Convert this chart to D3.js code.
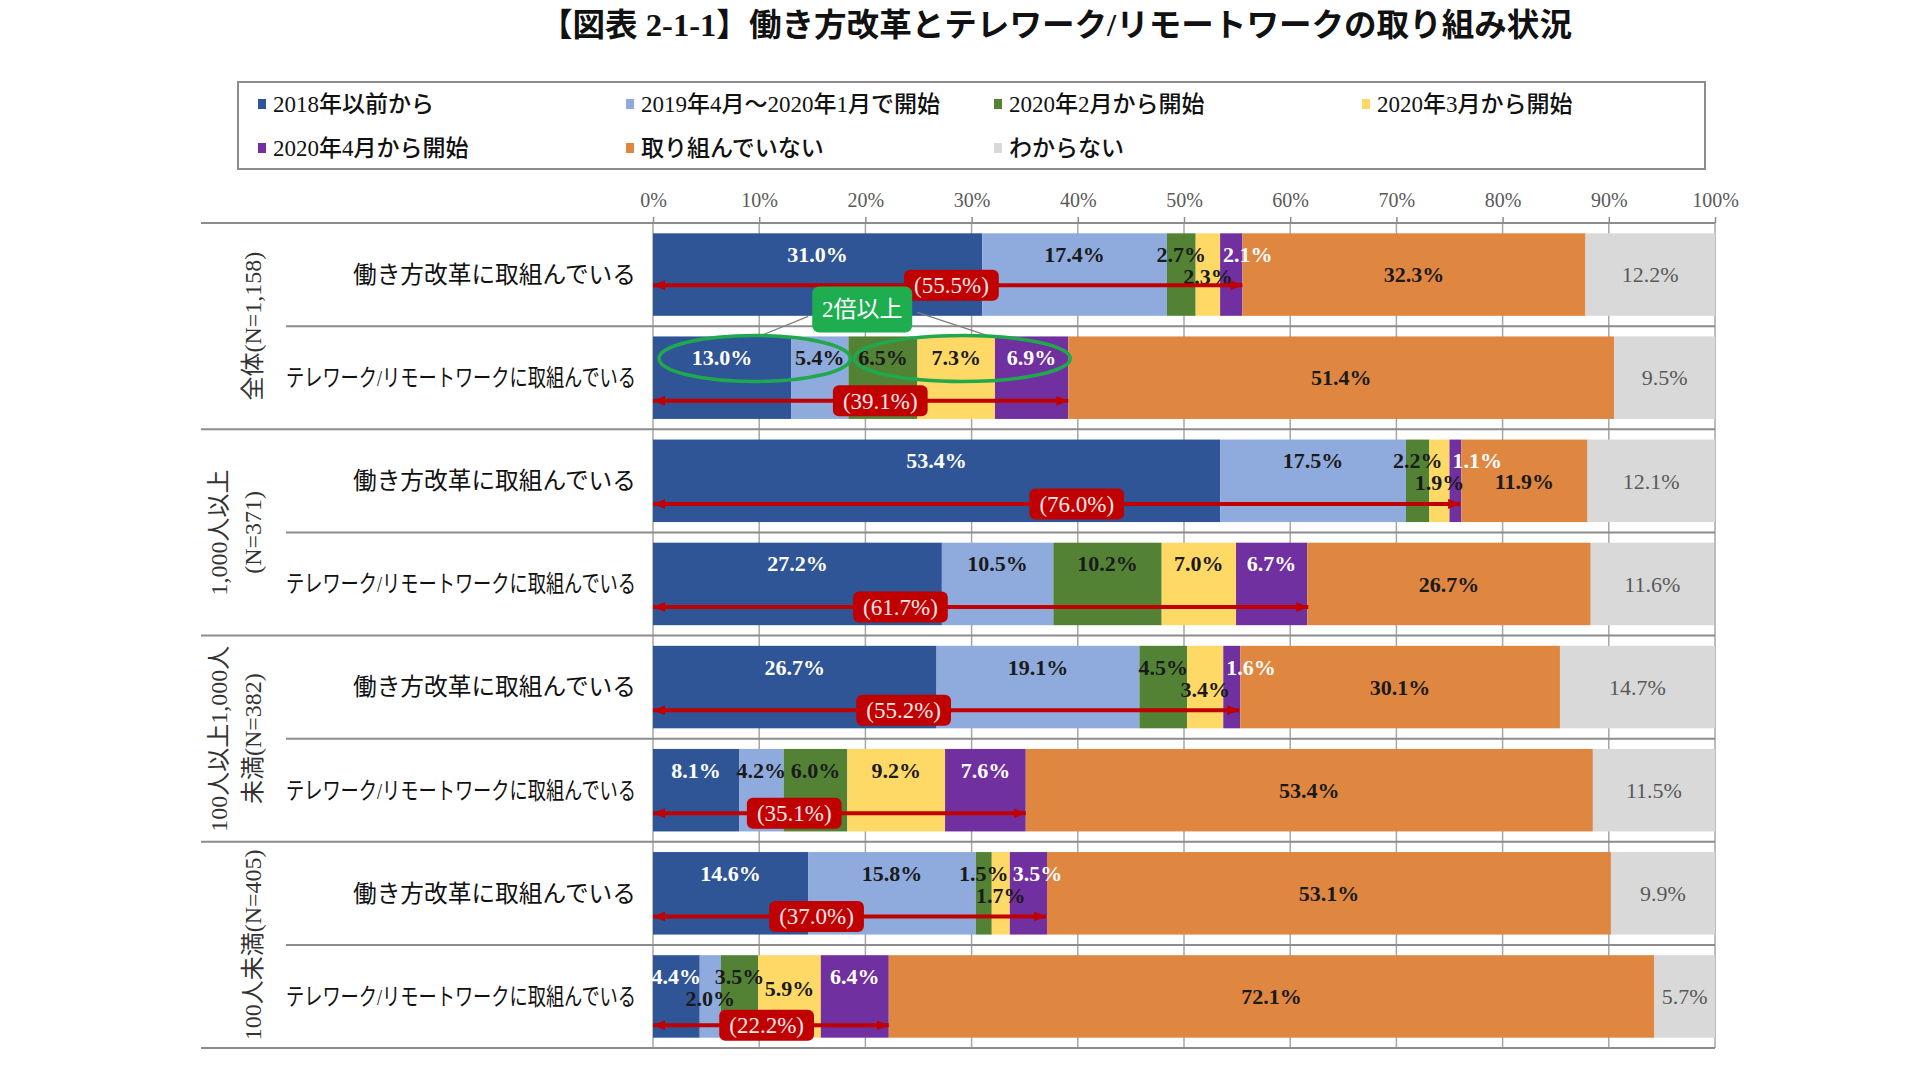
<!DOCTYPE html>
<html lang="ja">
<head>
<meta charset="utf-8">
<title>働き方改革とテレワーク/リモートワークの取り組み状況</title>
<script src="https://cdn.jsdelivr.net/npm/d3@7"></script>
<style>
    body { margin: 0; background: #fff; }
    #chart { width: 1920px; height: 1071px; }
    text { font-family: 'Liberation Serif', 'Noto Sans CJK JP', serif; }
</style>
</head>
<body>
<div id="chart"></div>
<script>

// chart title
const title = "【図表 2-1-1】働き方改革とテレワーク/リモートワークの取り組み状況";

// legend / series names
const categories = ["2018年以前から", "2019年4月～2020年1月で開始", "2020年2月から開始", "2020年3月から開始",
    "2020年4月から開始", "取り組んでいない", "わからない"];
const seriesColors = ["#2f5597", "#8faadc", "#548235", "#ffd966", "#7030a0", "#df8640", "#d9d9d9"];

// row groups (company size) and the two questions inside each group
const groupLabels = [["全体(N=1,158)"], ["1,000人以上", "(N=371)"], ["100人以上1,000人", "未満(N=382)"], ["100人未満(N=405)"]];
const rowLabels = ["働き方改革に取組んでいる", "テレワーク/リモートワークに取組んでいる"];

// values (%), one entry per bar, top to bottom
const before2018 = [31.0, 13.0, 53.4, 27.2, 26.7, 8.1, 14.6, 4.4];
const apr2019toJan2020 = [17.4, 5.4, 17.5, 10.5, 19.1, 4.2, 15.8, 2.0];
const feb2020 = [2.7, 6.5, 2.2, 10.2, 4.5, 6.0, 1.5, 3.5];
const mar2020 = [2.3, 7.3, 1.9, 7.0, 3.4, 9.2, 1.7, 5.9];
const apr2020 = [2.1, 6.9, 1.1, 6.7, 1.6, 7.6, 3.5, 6.4];
const notDoing = [32.3, 51.4, 11.9, 26.7, 30.1, 53.4, 53.1, 72.1];
const unknown = [12.2, 9.5, 12.1, 11.6, 14.7, 11.5, 9.9, 5.7];

// red arrows: share that has started (first five series) and where its tag sits on the axis
const startedTotal = [55.5, 39.1, 76.0, 61.7, 55.2, 35.1, 37.0, 22.2];
const startedTagAt = [28.1, 21.4, 39.9, 23.3, 23.6, 13.3, 15.4, 10.7];

// green callout
const calloutText = "2倍以上";
const calloutAt = 19.7;
const calloutRow = 1;
const calloutSeries = [[0, 1], [2, 4]];

// x axis ticks
const ticks = [0, 10, 20, 30, 40, 50, 60, 70, 80, 90, 100];


class StackedBar {

    constructor(parentElement) {
        this.parentElement = parentElement;
        this.series = [before2018, apr2019toJan2020, feb2020, mar2020, apr2020, notDoing, unknown];
        this.displayData = [];

        this.initVis();
    }

    initVis() {
        let vis = this;

        vis.width = 1920;
        vis.height = 1071;

        vis.svg = d3.select("#" + vis.parentElement).append("svg")
            .attr("width", vis.width)
            .attr("height", vis.height);

        vis.x = d3.scaleLinear()
            .domain([0, 100])
            .range([653, 1715]);

        vis.y = d3.scaleBand()
            .domain(d3.range(before2018.length))
            .range([223, 1048])
            .paddingInner(0.2)
            .paddingOuter(0.1);

        vis.step = vis.y.step();
        vis.bw = vis.y.bandwidth();

        // title
        vis.svg.append("text")
            .attr("x", 1056)
            .attr("y", 36)
            .attr("text-anchor", "middle")
            .attr("font-size", 32)
            .attr("font-weight", 600)
            .attr("textLength", 1032)
            .attr("lengthAdjust", "spacingAndGlyphs")
            .attr("fill", "#111")
            .text(title);

        // legend
        vis.svg.append("rect")
            .attr("x", 238).attr("y", 82)
            .attr("width", 1467).attr("height", 87)
            .attr("fill", "none")
            .attr("stroke", "#8c8c8c")
            .attr("stroke-width", 2);

        let legend = vis.svg.selectAll(".legend-item")
            .data(categories)
            .enter().append("g")
            .attr("class", "legend-item")
            .attr("transform", (d, i) => `translate(${258 + (i % 4) * 368}, ${104 + Math.floor(i / 4) * 44})`);

        legend.append("rect")
            .attr("x", 0).attr("y", -5)
            .attr("width", 8).attr("height", 10)
            .attr("fill", (d, i) => seriesColors[i]);

        legend.append("text")
            .attr("x", 15)
            .attr("dy", "0.35em")
            .attr("font-size", 23)
            .attr("font-weight", 500)
            .attr("fill", "#111")
            .text(d => d);

        // gridlines behind the bars
        vis.svg.selectAll(".grid")
            .data(ticks)
            .enter().append("line")
            .attr("class", "grid")
            .attr("x1", d => vis.x(d)).attr("x2", d => vis.x(d))
            .attr("y1", 223).attr("y2", 1048)
            .attr("stroke", "#a6a6a6")
            .attr("stroke-width", 1.5);

        // top axis
        vis.xAxis = d3.axisTop(vis.x)
            .tickValues(ticks)
            .tickFormat(d => d + "%")
            .tickSize(6)
            .tickPadding(10);

        vis.axisG = vis.svg.append("g")
            .attr("transform", "translate(0,223)")
            .call(vis.xAxis);
        vis.axisG.select(".domain").remove();
        vis.axisG.selectAll(".tick line").attr("stroke", "#8c8c8c").attr("stroke-width", 1.5);
        vis.axisG.selectAll(".tick text")
            .attr("font-family", "'Liberation Serif', serif")
            .attr("font-size", 20)
            .attr("fill", "#595959");

        // row separators: group borders run further left than the inner ones
        let seps = d3.range(before2018.length + 1);
        vis.svg.selectAll(".sep")
            .data(seps)
            .enter().append("line")
            .attr("class", "sep")
            .attr("x1", d => d % 2 === 0 ? 201 : 286)
            .attr("x2", vis.x(100))
            .attr("y1", d => 223 + d * vis.step)
            .attr("y2", d => 223 + d * vis.step)
            .attr("stroke", "#8c8c8c")
            .attr("stroke-width", 2);

        // row labels
        before2018.forEach((v, i) => {
            let label = rowLabels[i % 2];
            vis.svg.append("text")
                .attr("x", 636)
                .attr("y", vis.y(i) + vis.bw / 2)
                .attr("dy", "0.35em")
                .attr("text-anchor", "end")
                .attr("font-size", 24)
                .attr("textLength", i % 2 === 0 ? 283 : 350)
                .attr("lengthAdjust", "spacingAndGlyphs")
                .attr("fill", "#111")
                .text(label);
        });

        // group labels, rotated
        groupLabels.forEach((lines, g) => {
            let cy = 223 + (g * 2 + 1) * vis.step;
            lines.forEach((line, j) => {
                let cx = 253 - (lines.length - 1 - j) * 34;
                vis.svg.append("text")
                    .attr("transform", `translate(${cx},${cy}) rotate(-90)`)
                    .attr("text-anchor", "middle")
                    .attr("dy", "0.35em")
                    .attr("font-size", 24)
                    .attr("fill", "#333")
                    .text(line);
            });
        });

        // arrow markers
        let defs = vis.svg.append("defs");
        defs.append("marker")
            .attr("id", "arrowEnd")
            .attr("markerUnits", "userSpaceOnUse")
            .attr("viewBox", "0 0 12 10")
            .attr("refX", 12).attr("refY", 5)
            .attr("markerWidth", 12).attr("markerHeight", 10)
            .attr("orient", "auto")
            .append("path").attr("d", "M0,0L12,5L0,10Z").attr("fill", "#c00000");
        defs.append("marker")
            .attr("id", "arrowStart")
            .attr("markerUnits", "userSpaceOnUse")
            .attr("viewBox", "0 0 12 10")
            .attr("refX", 0).attr("refY", 5)
            .attr("markerWidth", 12).attr("markerHeight", 10)
            .attr("orient", "auto")
            .append("path").attr("d", "M12,0L0,5L12,10Z").attr("fill", "#c00000");

        vis.wrangleData();
    }

    wrangleData() {
        let vis = this;

        vis.displayData = before2018.map((v, i) => {
            let acc = 0;
            let segments = vis.series.map((s, k) => {
                let seg = {series: k, value: s[i], start: acc, end: Math.min(100, acc + s[i])};
                acc += s[i];
                return seg;
            });
            return {row: i, segments: segments, started: startedTotal[i], tagAt: startedTagAt[i]};
        });

        vis.updateVis();
    }

    updateVis() {
        let vis = this;

        // arrow height inside each bar (fraction of bar height)
        let arrowPos = [0.63, 0.78, 0.78, 0.78, 0.78, 0.78, 0.78, 0.85];

        let rows = vis.svg.selectAll(".bar-row")
            .data(vis.displayData)
            .enter().append("g")
            .attr("class", "bar-row");

        rows.selectAll("rect")
            .data(d => d.segments.map(s => Object.assign({row: d.row}, s)))
            .enter().append("rect")
            .attr("x", d => vis.x(d.start))
            .attr("y", d => vis.y(d.row))
            .attr("width", d => vis.x(d.end) - vis.x(d.start))
            .attr("height", vis.bw)
            .attr("fill", d => seriesColors[d.series]);

        // segment labels; small ones in the first five series step down when they would collide
        vis.displayData.forEach(row => {
            let top = vis.y(row.row);
            let lastUpperRight = -Infinity;
            row.segments.forEach((s, i) => {
                let x0 = vis.x(s.start), x1 = vis.x(s.end);
                let t = vis.svg.append("text")
                    .attr("font-size", 22)
                    .attr("font-weight", i === 6 ? "normal" : "bold")
                    .attr("dy", "0.35em")
                    .attr("fill", i === 0 || i === 4 ? "#fff" : (i === 6 ? "#595959" : "#1a1a1a"))
                    .text(s.value.toFixed(1) + "%");
                let tw = t.node().getComputedTextLength();

                if (i >= 5) {
                    t.attr("x", (x0 + x1) / 2).attr("y", top + vis.bw / 2).attr("text-anchor", "middle");
                    return;
                }
                let narrow = tw + 4 > x1 - x0;
                let anchor = "middle", tx = (x0 + x1) / 2;
                if (narrow && i === 4) { anchor = "start"; tx = x0 + 3; }
                let left = anchor === "start" ? tx : tx - tw / 2;
                let ty = top + 21;
                if (i < 4 && left < lastUpperRight + 2) {
                    ty = narrow ? top + 43 : top + 33;
                } else {
                    lastUpperRight = left + tw;
                }
                t.attr("x", tx).attr("y", ty).attr("text-anchor", anchor);
            });
        });

        // red arrows with tags
        vis.displayData.forEach(row => {
            let ay = vis.y(row.row) + vis.bw * arrowPos[row.row];
            vis.svg.append("line")
                .attr("x1", vis.x(0)).attr("x2", vis.x(row.started))
                .attr("y1", ay).attr("y2", ay)
                .attr("stroke", "#c00000")
                .attr("stroke-width", 4)
                .attr("marker-start", "url(#arrowStart)")
                .attr("marker-end", "url(#arrowEnd)");

            let g = vis.svg.append("g").attr("transform", `translate(${vis.x(row.tagAt)},${ay})`);
            let r = g.append("rect").attr("fill", "#c00000").attr("rx", 6);
            let t = g.append("text")
                .attr("text-anchor", "middle")
                .attr("dy", "0.35em")
                .attr("font-size", 23)
                .attr("fill", "#ffe6e6")
                .text(`(${row.started.toFixed(1)}%)`);
            let tw = t.node().getComputedTextLength();
            r.attr("x", -tw / 2 - 10).attr("y", -15.5).attr("width", tw + 20).attr("height", 31);
        });

        // green callout: ellipses around the circled segments of one row
        let crow = vis.displayData[calloutRow];
        let ecy = vis.y(calloutRow) + 22;
        let ellipses = calloutSeries.map(([a, b]) => {
            let ex0 = vis.x(crow.segments[a].start), ex1 = vis.x(crow.segments[b].end);
            return {cx: (ex0 + ex1) / 2 + 4, rx: (ex1 - ex0) / 2 - 2, ry: 23};
        });
        let bx = vis.x(calloutAt), by = vis.y(calloutRow) - 27;

        vis.svg.append("line")
            .attr("x1", bx - 54).attr("y1", by + 7)
            .attr("x2", ellipses[0].cx + 4).attr("y2", ecy - ellipses[0].ry + 1)
            .attr("stroke", "#7f7f7f").attr("stroke-width", 1.3);
        let off = 27;
        vis.svg.append("line")
            .attr("x1", bx + 55).attr("y1", by + 3)
            .attr("x2", ellipses[1].cx + off)
            .attr("y2", ecy - ellipses[1].ry * Math.sqrt(1 - Math.pow(off / ellipses[1].rx, 2)))
            .attr("stroke", "#7f7f7f").attr("stroke-width", 1.3);

        vis.svg.selectAll(".callout-ellipse")
            .data(ellipses)
            .enter().append("ellipse")
            .attr("class", "callout-ellipse")
            .attr("cx", d => d.cx).attr("cy", ecy)
            .attr("rx", d => d.rx).attr("ry", d => d.ry)
            .attr("fill", "none")
            .attr("stroke", "#1fa84c")
            .attr("stroke-width", 3.5);

        vis.svg.append("rect")
            .attr("x", bx - 50).attr("y", by - 23)
            .attr("width", 100).attr("height", 46)
            .attr("rx", 7)
            .attr("fill", "#1fae4f");
        vis.svg.append("text")
            .attr("x", bx).attr("y", by)
            .attr("dy", "0.35em")
            .attr("text-anchor", "middle")
            .attr("font-size", 23)
            .attr("fill", "#fff")
            .text(calloutText);
    }
}

new StackedBar("chart");

</script>
</body>
</html>
